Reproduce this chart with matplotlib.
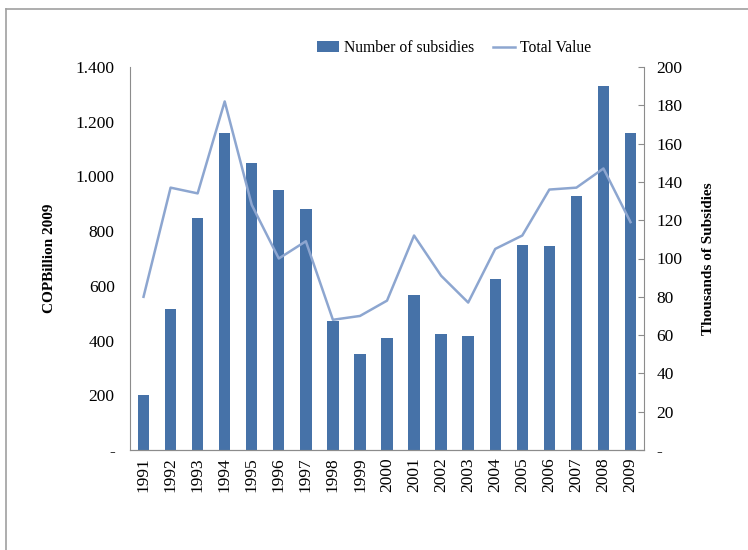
import matplotlib.pyplot as plt
from matplotlib.lines import Line2D
from matplotlib.ticker import FuncFormatter

plt.rcParams["font.family"] = ["Liberation Serif", "DejaVu Serif"]

years = [str(y) for y in range(1991, 2010)]
# bars (left axis, COP billion 2009)
subsidies = [200, 515, 848, 1160, 1050, 950, 880, 472, 350, 410,
             565, 425, 415, 625, 748, 745, 930, 1330, 1160]
# line (right axis, thousands)
total_value = [80, 137, 134, 182, 128, 100, 109, 68, 70, 78,
               112, 91, 77, 105, 112, 136, 137, 147, 119]

bar_color = "#4672A8"
line_color = "#8DA6D0"
gray = "#8C8C8C"

fig = plt.figure(figsize=(7.48, 5.5), dpi=100)
ax = fig.add_axes([0.1738, 0.1818, 0.6872, 0.6964])
ax2 = ax.twinx()

x = range(len(years))
bars = ax.bar(x, subsidies, width=0.42, color=bar_color, zorder=2)
line, = ax2.plot(x, total_value, color=line_color, lw=1.8, zorder=3)

ax.set_xlim(-0.5, len(years) - 0.5)
ax.set_ylim(0, 1400)
ax.set_yticks(range(0, 1401, 200))
ax2.set_ylim(0, 200)
ax2.set_yticks(range(0, 201, 20))


def left_fmt(v, pos):
    if v == 0:
        return "-"
    return f"{int(v):,}".replace(",", ".")


def right_fmt(v, pos):
    return "-" if v == 0 else f"{int(v)}"


ax.yaxis.set_major_formatter(FuncFormatter(left_fmt))
ax2.yaxis.set_major_formatter(FuncFormatter(right_fmt))

ax.set_xticks(list(x))
ax.set_xticklabels(years, rotation=90, fontsize=12.5)
ax.tick_params(axis="x", length=0, pad=5)
ax.tick_params(axis="y", length=0, labelsize=12.5, pad=11)
ax2.tick_params(axis="y", direction="in", length=4, color=gray, labelsize=12.5, pad=9)

for a in (ax, ax2):
    a.spines["top"].set_visible(False)
    for s in ("left", "right", "bottom"):
        a.spines[s].set_color(gray)
ax2.spines["left"].set_visible(False)
ax.spines["right"].set_visible(False)

ax.set_ylabel("COPBillion 2009", fontsize=11, fontweight="bold", labelpad=14)
ax2.set_ylabel("Thousands of Subsidies", fontsize=11, fontweight="bold", labelpad=14)

fig.legend([bars, line], ["Number of subsidies", "Total Value"],
           loc="center", bbox_to_anchor=(0.607, 0.912), ncol=2, frameon=False,
           fontsize=11.3, handlelength=1.4, handletextpad=0.3, columnspacing=1.2)

# outer frame (top and left edges only)
fig.add_artist(Line2D([0.008, 1.0], [0.984, 0.984], color="#A0A0A0", lw=1.2))
fig.add_artist(Line2D([0.008, 0.008], [0.0, 0.984], color="#A0A0A0", lw=1.2))

fig.savefig("out.png", dpi=100)
